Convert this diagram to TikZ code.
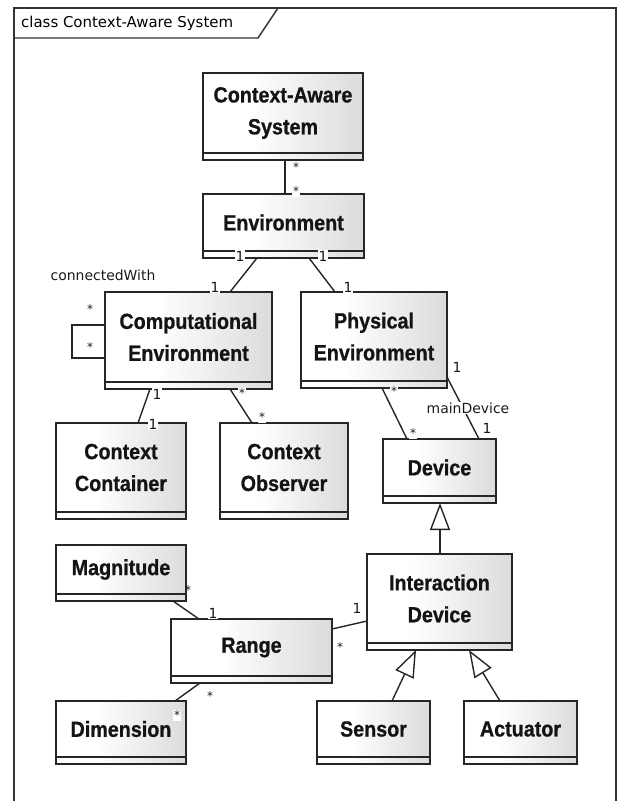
\documentclass[tikz,border=0pt]{standalone}
\usepackage{fontspec}
\setmainfont{Liberation Sans}
\newfontfamily\clsfont[FakeStretch=0.9,FakeBold=0.8]{Liberation Sans}
\newfontfamily\lblfont{DejaVu Sans}
\usetikzlibrary{calc,arrows.meta}
\pgfdeclarehorizontalshading{umlgrad}{100bp}{color(0bp)=(white); color(40bp)=(white); color(100bp)=(black!24)}
\newcommand\umlbox[6]{%
  \node[clsbox, minimum width={(#4-#2)*1bp}, minimum height={(#5-#3)*1bp}, anchor=north west] (#1) at (#2,#3) {};
  \draw[clsline] ($(#1.south west)+(0,-7)$) -- ($(#1.south east)+(0,-7)$);
  \node[clstext] (#1-t) at ({(#2+#4)/2},{(#3+#5-7)/2}) {#6};
}
\begin{document}
\begin{tikzpicture}[x=1bp,y=-1bp,
  clsbox/.style={draw=black!85, line width=1.8bp, shade, shading=umlgrad, inner sep=0pt, outer sep=0pt},
  clsline/.style={draw=black!85, line width=1.8bp},
  clstext/.style={font=\clsfont\bfseries\fontsize{22}{32}\selectfont, align=center, inner sep=0pt, text=black!92},
  conn/.style={draw=black!85, line width=1.4bp},
  gen/.style={conn, -{Triangle[open, length=27bp, width=20bp]}},
  mult/.style={font=\lblfont\fontsize{14}{16}\selectfont, fill=white, inner sep=0.6bp, text=black!90},
  star/.style={mult, font=\lblfont\fontsize{12}{14}\selectfont, yshift=-2.5bp},
  frameline/.style={draw=black!80, line width=1.4bp}]
\useasboundingbox (0,0) rectangle (622,801);
% frame
\draw[frameline] (14,801) -- (14,8) -- (616,8) -- (616,801);
\draw[frameline] (14,38) -- (258,38) -- (278,8);
\node[anchor=west, font=\lblfont\fontsize{15}{17}\selectfont, inner sep=0pt] (title) at (21,23) {class Context-Aware System};
% classes
\umlbox{cas}{203}{73}{363}{160}{Context-Aware\\System}
\umlbox{env}{203}{194}{364}{258}{Environment}
\umlbox{comp}{105}{292}{272}{389}{Computational\\Environment}
\umlbox{phys}{301}{292}{447}{388}{Physical\\Environment}
\umlbox{cc}{56}{423}{186}{519}{Context\\Container}
\umlbox{co}{220}{423}{348}{519}{Context\\Observer}
\umlbox{dev}{383}{439}{496}{503}{Device}
\umlbox{mag}{56}{545}{186}{601}{Magnitude}
\umlbox{range}{171}{619}{332}{683}{Range}
\umlbox{idev}{367}{554}{512}{650}{Interaction\\Device}
\umlbox{dim}{56}{701}{186}{764}{Dimension}
\umlbox{sensor}{317}{701}{430}{764}{Sensor}
\umlbox{act}{464}{701}{577}{764}{Actuator}
% associations
\draw[conn] ($(cas.south west)+(82,0)$) -- ($(env.north west)+(82,0)$);
\draw[conn] ($(env.south west)+(54,0)$) -- ($(comp.north west)+(125,0)$);
\draw[conn] ($(env.south west)+(106,0)$) -- ($(phys.north west)+(34,0)$);
\coordinate (loopa) at (72,325);
\coordinate (loopb) at (72,358);
\draw[conn] ($(comp.north west)+(0,33)$) -- (loopa) -- (loopb) -- ($(comp.north west)+(0,66)$);
\draw[conn] ($(comp.south west)+(45,0)$) -- ($(cc.north west)+(82,0)$);
\draw[conn] ($(comp.south west)+(125,0)$) -- ($(co.north west)+(32,0)$);
\draw[conn] ($(phys.south west)+(81,0)$) -- ($(dev.north west)+(24,0)$);
\draw[conn] ($(phys.north east)+(0,85)$) -- ($(dev.north west)+(96,0)$);
\draw[conn] ($(mag.south west)+(117,0)$) -- ($(range.north west)+(28,0)$);
\draw[conn] ($(range.south west)+(29,0)$) -- ($(dim.north west)+(119,0)$);
\draw[conn] ($(range.north east)+(0,10)$) -- ($(idev.north west)+(0,67)$);
% generalizations
\draw[gen] ($(idev.north west)+(73,0)$) -- ($(dev.south west)+(57,0)$);
\draw[gen] ($(sensor.north west)+(75,0)$) -- ($(idev.south west)+(49,0)$);
\draw[gen] ($(act.north west)+(36,0)$) -- ($(idev.south west)+(102,0)$);
% multiplicities and role names
\node[star] (m1) at (296,165) {*};
\node[star] (m2) at (296,189) {*};
\node[mult] (m3) at (240,256) {1};
\node[mult] (m4) at (215,287) {1};
\node[mult] (m5) at (323,256) {1};
\node[mult] (m6) at (348,287) {1};
\node[star] (m7) at (90,307) {*};
\node[star] (m8) at (90,345) {*};
\node[mult, fill=none] (cw) at (103,275) {connectedWith};
\node[mult] (m9) at (157,394) {1};
\node[mult] (m10) at (153,424) {1};
\node[star] (m11) at (242,391) {*};
\node[star] (m12) at (262,415) {*};
\node[star] (m13) at (394,389) {*};
\node[star] (m14) at (413,431) {*};
\node[mult, fill=none] (m15) at (457,367) {1};
\node[mult] (md) at (468,408) {mainDevice};
\node[mult, fill=none] (m16) at (487,428) {1};
\node[star, fill=none] (m17) at (188,588) {*};
\node[mult] (m18) at (213,613) {1};
\node[star, fill=none] (m19) at (210,694) {*};
\node[star] (m20) at (177,713) {*};
\node[mult, fill=none] (m21) at (357,608) {1};
\node[star, fill=none] (m22) at (340,645) {*};
\end{tikzpicture}
\end{document}
